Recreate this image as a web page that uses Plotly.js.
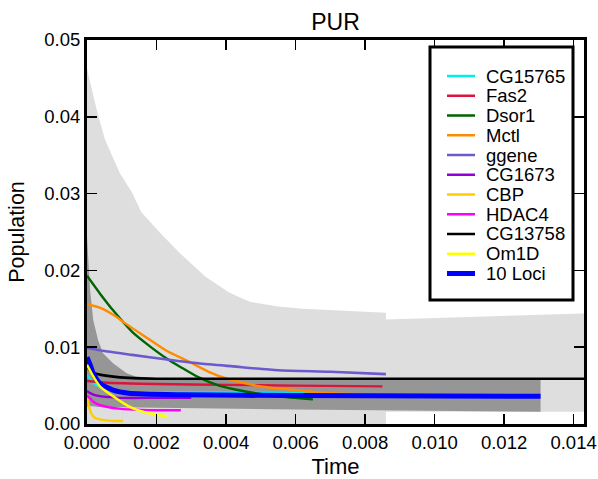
<!DOCTYPE html>
<html>
<head>
<meta charset="utf-8">
<script src="https://cdn.plot.ly/plotly-3.0.1.min.js"></script>
<style>html,body{margin:0;padding:0;background:#fff;}#chart{width:598px;height:479px;}</style>
</head>
<body>
<div id="chart"></div>
<script>
// ---- Envelope bands ----
var lightT     = [0, 0.00028, 0.00052, 0.00094, 0.0013, 0.00156, 0.0021, 0.00266, 0.0034, 0.0041, 0.0047, 0.0055, 0.0062, 0.0086, 0.0086, 0.0143];
var lightUpper = [0.0463, 0.0409, 0.0370, 0.0327, 0.0301, 0.0276, 0.0249, 0.0223, 0.0192, 0.0171, 0.0159, 0.0153, 0.0150, 0.0145, 0.0136, 0.0144];
var lightLower = [0, 0, 0, 0, 0, 0, 0, 0, 0, 0, 0, 0, 0, 0, 0.0016, 0.0016];

var darkT     = [0, 0.00009, 0.00018, 0.00032, 0.00046, 0.00075, 0.00114, 0.0014, 0.002, 0.006, 0.01305];
var darkUpper = [0.0244, 0.0174, 0.0135, 0.0109, 0.0092, 0.0079, 0.0066, 0.0062, 0.0060, 0.0059, 0.0059];
var darkLower = [0.0023, 0.0023, 0.0023, 0.0022, 0.0022, 0.0022, 0.0021, 0.0021, 0.0021, 0.0019, 0.0016];

// ---- Loci series ----
var cg15765T = [0, 0.0001, 0.0002, 0.0004, 0.0007, 0.001, 0.002, 0.004, 0.0065];
var cg15765Y = [0.0064, 0.0058, 0.0053, 0.0048, 0.0044, 0.0042, 0.0041, 0.0041, 0.0040];

var fas2T = [0, 0.0005, 0.001, 0.002, 0.004, 0.006, 0.0085];
var fas2Y = [0.0056, 0.0054, 0.0053, 0.0052, 0.0051, 0.0050, 0.0049];

var dsor1T = [0, 0.00037, 0.00075, 0.0013, 0.0017, 0.0023, 0.0027, 0.0032, 0.0038, 0.0046, 0.0055, 0.0065];
var dsor1Y = [0.0193, 0.0170, 0.0148, 0.0120, 0.0105, 0.0085, 0.0074, 0.0061, 0.0050, 0.0042, 0.0036, 0.0032];

var mctlT = [0, 0.0004, 0.0008, 0.0011, 0.0017, 0.0023, 0.0029, 0.0035, 0.0041, 0.005, 0.006, 0.007, 0.0086];
var mctlY = [0.0156, 0.0151, 0.0141, 0.0131, 0.0113, 0.0095, 0.0082, 0.0068, 0.0058, 0.0049, 0.0044, 0.0040, 0.0038];

var ggeneT = [0, 0.0005, 0.0013, 0.0023, 0.0032, 0.0042, 0.0055, 0.007, 0.0086];
var ggeneY = [0.0099, 0.0095, 0.0090, 0.0084, 0.0079, 0.0075, 0.0070, 0.0068, 0.0065];

var cg1673T = [0, 0.0001, 0.0002, 0.0004, 0.0007, 0.001, 0.002, 0.003];
var cg1673Y = [0.0043, 0.0040, 0.0038, 0.0036, 0.0035, 0.0034, 0.0034, 0.0034];

var cbpT = [0, 0.00005, 0.00012, 0.0002, 0.00028, 0.0005, 0.0008, 0.00104];
var cbpY = [0.0037, 0.0024, 0.0014, 0.0009, 0.0007, 0.0005, 0.0004, 0.0004];

var hdac4T = [0, 0.0001, 0.00018, 0.0003, 0.00056, 0.0009, 0.0012, 0.002, 0.0027];
var hdac4Y = [0.0037, 0.0033, 0.0029, 0.0026, 0.00225, 0.0020, 0.0019, 0.0018, 0.0018];

var cg13758T = [0, 0.0001, 0.0002, 0.0004, 0.0007, 0.0012, 0.002, 0.006, 0.01, 0.0145];
var cg13758Y = [0.0075, 0.0069, 0.0066, 0.0064, 0.0062, 0.0060, 0.0059, 0.0059, 0.0059, 0.0059];

var om1dT = [0, 0.00018, 0.00037, 0.00075, 0.0012, 0.0017, 0.0023, 0.00233];
var om1dY = [0.0077, 0.0062, 0.0049, 0.0036, 0.0023, 0.0015, 0.0010, 0.0010];

var lociT = [0, 0.0001, 0.00018, 0.00037, 0.00075, 0.0012, 0.0027, 0.006, 0.01305];
var lociY = [0.0087, 0.0076, 0.0066, 0.0053, 0.0044, 0.0040, 0.0038, 0.0037, 0.0036];

var xTicks = [0, 0.002, 0.004, 0.006, 0.008, 0.010, 0.012, 0.014];
var yTicks = [0, 0.01, 0.02, 0.03, 0.04, 0.05];

// legend order / names
var legendNames = ['CG15765', 'Fas2', 'Dsor1', 'Mctl', 'ggene', 'CG1673', 'CBP', 'HDAC4', 'CG13758', 'Om1D', '10 Loci'];

var M = {l: 87, r: 14, t: 40, b: 55};
var W = 598, H = 479;
var PW = W - M.l - M.r, PH = H - M.t - M.b;
function px2x(px) { return (px - M.l) / PW; }
function py2y(py) { return (H - M.b - py) / PH; }

function band(t, up, lo, color) {
  var xs = t.concat(t.slice().reverse());
  var ys = up.concat(lo.slice().reverse());
  return {x: xs, y: ys, type: 'scatter', mode: 'lines', fill: 'toself',
          fillcolor: color, line: {width: 0, color: color},
          showlegend: false, hoverinfo: 'skip'};
}
function ln(name, t, y, color, width) {
  return {x: t, y: y, name: name, type: 'scatter', mode: 'lines',
          line: {color: color, width: width, shape: 'spline', smoothing: 0.6},
          showlegend: false};
}

var lines = [
  ln('CG15765', cg15765T, cg15765Y, '#00eeee', 2.4),
  ln('Fas2', fas2T, fas2Y, '#dc143c', 2.4),
  ln('Dsor1', dsor1T, dsor1Y, '#006400', 2.4),
  ln('Mctl', mctlT, mctlY, '#ff8c00', 2.4),
  ln('ggene', ggeneT, ggeneY, '#6a5acd', 2.6),
  ln('CG1673', cg1673T, cg1673Y, '#9400d3', 2.4),
  ln('CBP', cbpT, cbpY, '#ffcc00', 2.4),
  ln('HDAC4', hdac4T, hdac4Y, '#ff00ff', 2.4),
  ln('CG13758', cg13758T, cg13758Y, '#000000', 2.6),
  ln('10 Loci', lociT, lociY, '#0000ff', 5),
  ln('Om1D', om1dT, om1dY, '#ffff00', 2.4)
];

var data = [
  band(lightT, lightUpper, lightLower, '#dedede'),
  band(darkT, darkUpper, darkLower, '#969696')
].concat(lines);

// custom legend (matplotlib-like compact spacing)
var shapes = [{
  type: 'rect', xref: 'paper', yref: 'paper',
  x0: px2x(430), x1: px2x(573), y0: py2y(300), y1: py2y(47),
  fillcolor: '#ffffff', line: {color: '#000', width: 3}, layer: 'above'
}];
var annotations = [];
legendNames.forEach(function (nm, i) {
  var tr = lines.filter(function (d) { return d.name === nm; })[0];
  var cy = 76 + 19.75 * i;
  shapes.push({type: 'line', xref: 'paper', yref: 'paper',
    x0: px2x(447), x1: px2x(475), y0: py2y(cy), y1: py2y(cy),
    line: {color: tr.line.color, width: tr.line.width === 5 ? 5 : 2.5}, layer: 'above'});
  annotations.push({xref: 'paper', yref: 'paper', x: px2x(484), y: py2y(cy),
    xanchor: 'left', yanchor: 'middle', text: nm, showarrow: false,
    font: {size: 18.5, color: '#000'}});
});

var layout = {
  width: W, height: H,
  margin: {l: M.l, r: M.r, t: M.t, b: M.b, pad: 0},
  paper_bgcolor: '#ffffff', plot_bgcolor: '#ffffff',
  font: {family: 'Liberation Sans, Arial, sans-serif', color: '#000', size: 18},
  title: {text: 'PUR', font: {size: 23}, x: 0.5, xref: 'paper', y: 0.954, yref: 'container', yanchor: 'middle'},
  xaxis: {
    range: [0, 0.0143], tickvals: xTicks, tickformat: '.3f',
    showgrid: false, zeroline: false, showline: true, linewidth: 3, linecolor: '#000',
    mirror: 'ticks', ticks: 'inside', ticklen: 10, tickwidth: 1.5, tickcolor: '#000',
    tickfont: {size: 18.5},
    title: {text: 'Time', font: {size: 22}}
  },
  yaxis: {
    range: [0, 0.05], tickvals: yTicks, tickformat: '.2f',
    showgrid: false, zeroline: false, showline: true, linewidth: 3, linecolor: '#000',
    mirror: 'ticks', ticks: 'inside', ticklen: 10, tickwidth: 1.5, tickcolor: '#000',
    tickfont: {size: 18.5},
    title: {text: 'Population', font: {size: 21.5}, standoff: 14}
  },
  shapes: shapes,
  annotations: annotations,
  showlegend: false
};

Plotly.newPlot('chart', data, layout, {displayModeBar: false, staticPlot: true});
</script>
</body>
</html>
